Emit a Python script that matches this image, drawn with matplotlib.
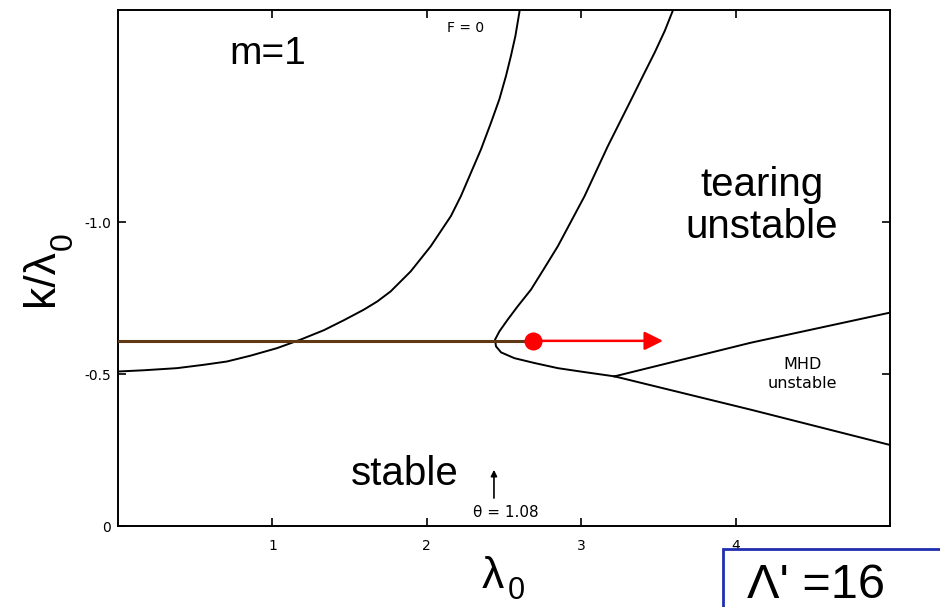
import matplotlib.pyplot as plt
from matplotlib.patches import Rectangle

plt.rcParams['font.family'] = ['Liberation Sans', 'DejaVu Sans']

# F = 0 curve
f0_lam = [0.0, 0.164, 0.381, 0.554, 0.706, 0.857, 1.030, 1.182, 1.333, 1.463, 1.593,
          1.680, 1.766, 1.896, 2.026, 2.156, 2.221, 2.286, 2.351, 2.416, 2.470, 2.513,
          2.545, 2.574, 2.602]
f0_k = [-0.509, -0.513, -0.520, -0.531, -0.542, -0.561, -0.586, -0.614, -0.645, -0.678,
        -0.713, -0.740, -0.773, -0.839, -0.922, -1.021, -1.087, -1.164, -1.241, -1.329,
        -1.406, -1.483, -1.549, -1.615, -1.70]

# tearing boundary, from the top down round the nose to the branch point
tear_lam = [3.595, 3.541, 3.476, 3.400, 3.325, 3.249, 3.173, 3.097, 3.022, 2.935, 2.849,
            2.762, 2.675, 2.589, 2.524, 2.470, 2.442, 2.448, 2.481, 2.567, 2.697, 2.849,
            3.022, 3.216]
tear_k = [-1.70, -1.631, -1.560, -1.483, -1.406, -1.329, -1.252, -1.169, -1.087, -1.004,
          -0.922, -0.850, -0.779, -0.724, -0.680, -0.641, -0.614, -0.592, -0.572, -0.553,
          -0.537, -0.520, -0.507, -0.493]

# MHD unstable wedge
mhd_lo_lam = [3.216, 4.10, 5.0]
mhd_lo_k = [-0.493, -0.383, -0.267]
mhd_hi_lam = [3.216, 4.10, 5.0]
mhd_hi_k = [-0.493, -0.604, -0.703]

# operating line and scan direction
scan_k = -0.61
scan_start = 2.69
scan_end = 3.53
theta_lam = 2.435

xticks = [1, 2, 3, 4]
yticks = [0, -0.5, -1.0]
ytick_labels = ['0', '-0.5', '-1.0']

fig = plt.figure(figsize=(9.4, 6.07), dpi=100)
ax = fig.add_axes([118 / 940, 1 - 526 / 607, 772 / 940, 516 / 607])

ax.plot(f0_lam, f0_k, color='black', lw=1.4)
ax.plot(tear_lam, tear_k, color='black', lw=1.4)
ax.plot(mhd_lo_lam, mhd_lo_k, color='black', lw=1.4)
ax.plot(mhd_hi_lam, mhd_hi_k, color='black', lw=1.4)

ax.plot([0, scan_start], [scan_k, scan_k], color='#603813', lw=2.2, zorder=3)
ax.annotate('', xy=(scan_end, scan_k), xytext=(scan_start, scan_k),
            arrowprops=dict(arrowstyle='-|>', color='red', lw=1.8,
                            mutation_scale=28, shrinkA=0, shrinkB=0), zorder=4)
ax.plot([scan_start], [scan_k], 'o', color='red', ms=12, zorder=5)

ax.set_xlim(0, 5.0)
ax.set_ylim(0, -1.70)
ax.set_xticks(xticks)
ax.set_xticklabels([str(t) for t in xticks], family='DejaVu Sans', fontsize=10)
ax.set_yticks(yticks)
ax.set_yticklabels(ytick_labels, family='DejaVu Sans', fontsize=10)
ax.tick_params(direction='in', length=6, width=1.2, top=True, right=True)
ax.tick_params(axis='x', pad=9)
ax.tick_params(axis='y', pad=5)
for s in ax.spines.values():
    s.set_linewidth(1.4)

# labels inside the plot
ax.text(0.97, -1.554, 'm=1', fontsize=28, ha='center', va='center')
ax.text(2.25, -1.64, 'F = 0', fontsize=10, family='DejaVu Sans', ha='center', va='center')
ax.text(4.17, -1.055, 'tearing\nunstable', fontsize=29, ha='center', va='center',
        linespacing=1.15)
ax.text(1.86, -0.135, 'stable', fontsize=29, ha='center', va='baseline')
ax.text(4.435, -0.50, 'MHD\nunstable', fontsize=11.5, family='DejaVu Sans',
        ha='center', va='center', linespacing=1.3)
ax.annotate('', xy=(theta_lam, -0.185), xytext=(theta_lam, -0.092),
            arrowprops=dict(arrowstyle='-|>', color='black', lw=1.2,
                            mutation_scale=9, shrinkA=0, shrinkB=0))
ax.text(2.51, -0.046, 'θ = 1.08', fontsize=11, family='DejaVu Sans', ha='center', va='center')

# axis titles, subscripts set by hand for a deeper drop
W, H = 940, 607
fig.text(53 / W, 1 - 306 / H, 'k/λ', rotation=90, rotation_mode='anchor',
         fontsize=32, ha='left', va='baseline')
fig.text(72 / W, 1 - 250 / H, '0', rotation=90, rotation_mode='anchor',
         fontsize=23, ha='left', va='baseline')
fig.text(482 / W, 1 - 588 / H, 'λ', fontsize=32, ha='left', va='baseline')
fig.text(508 / W, 1 - 599 / H, '0', fontsize=22, ha='left', va='baseline')

# boxed parameter value
fig.add_artist(Rectangle((723 / W, -0.1), 0.3, 0.1 + (1 - 549 / H),
                         transform=fig.transFigure, fill=False,
                         edgecolor='#1f2fb0', lw=2, clip_on=False))
fig.text(747 / W, 1 - 598 / H, "Λ' =16", fontsize=35, ha='left', va='baseline')

fig.savefig('out.png', dpi=100)
